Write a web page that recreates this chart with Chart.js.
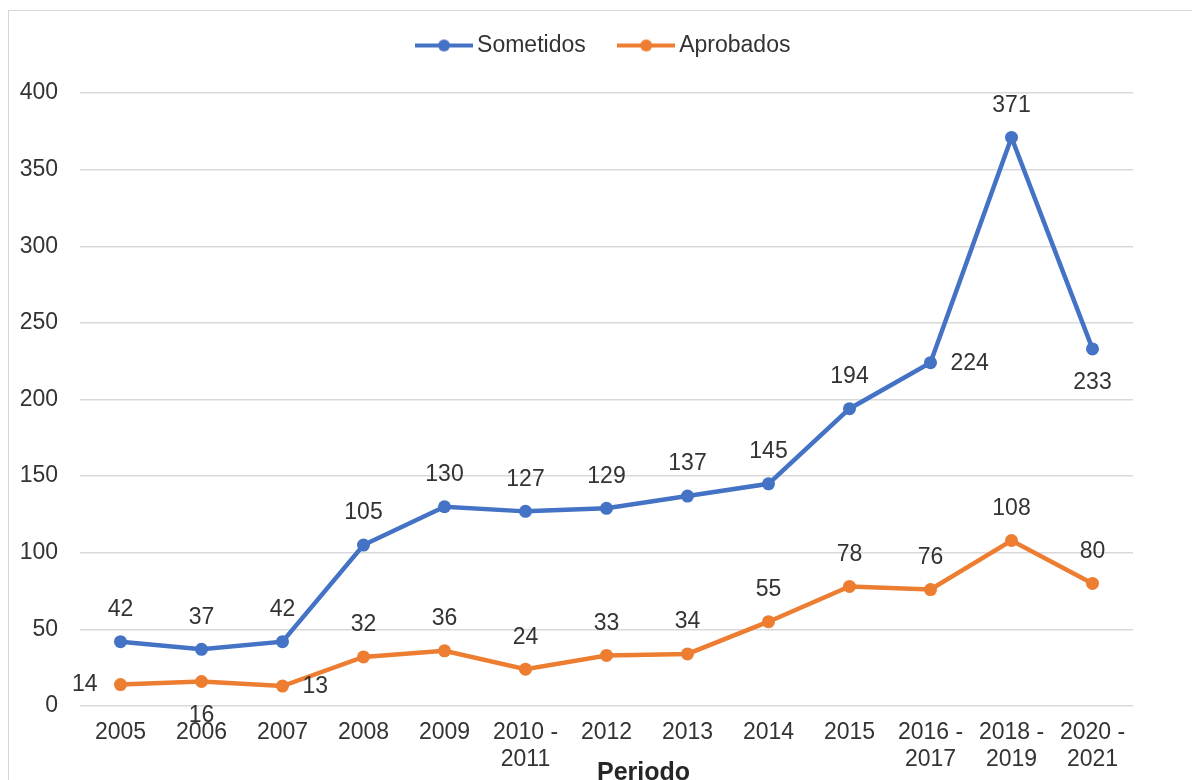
<!DOCTYPE html>
<html>
<head>
<meta charset="utf-8">
<script src="https://cdn.jsdelivr.net/npm/chart.js@4.4.1/dist/chart.umd.min.js"></script>
<style>
  html, body { margin: 0; padding: 0; background: #ffffff; overflow: hidden; }
  #frame { position: absolute; left: 8px; top: 10px; width: 1300px; height: 900px; border: 1.5px solid #d6d6d6; box-sizing: border-box; }
  #wrap { position: absolute; left: 0; top: 0; width: 1192px; height: 780px; }
</style>
</head>
<body>
<div id="frame"></div>
<div id="wrap"><canvas id="c" width="1192" height="780"></canvas></div>
<script>
// ---- data ----
const categories = [['2005'], ['2006'], ['2007'], ['2008'], ['2009'], ['2010 -', '2011'], ['2012'], ['2013'], ['2014'], ['2015'], ['2016 -', '2017'], ['2018 -', '2019'], ['2020 -', '2021']];
const seriesNames = ['Sometidos', 'Aprobados'];
const sometidos = [42, 37, 42, 105, 130, 127, 129, 137, 145, 194, 224, 371, 233];
const aprobados = [14, 16, 13, 32, 36, 24, 33, 34, 55, 78, 76, 108, 80];
const yTicks = [0, 50, 100, 150, 200, 250, 300, 350, 400];
const xTitle = 'Periodo';

// label placement (config)
const sometidosLabelPlace = ['top', 'top', 'top', 'top', 'top', 'top', 'top', 'top', 'top', 'top', 'right', 'top', 'bottom'];
const aprobadosLabelPlace = ['left', 'bottom', 'right', 'top', 'top', 'top', 'top', 'top', 'top', 'top', 'top', 'top', 'top'];

const BLUE = '#4472C4';
const ORANGE = '#ED7D31';
const TEXT = '#333333';
const FONT = '"Liberation Sans", Arial, sans-serif';

function legendMarker(color) {
  const c = document.createElement('canvas');
  c.width = 58; c.height = 14;
  const g = c.getContext('2d');
  g.strokeStyle = color; g.lineWidth = 4;
  g.beginPath(); g.moveTo(0, 7); g.lineTo(58, 7); g.stroke();
  g.fillStyle = color;
  g.beginPath(); g.arc(29, 7, 6, 0, Math.PI * 2); g.fill();
  return c;
}
const markers = [legendMarker(BLUE), legendMarker(ORANGE)];

const layoutPlugin = {
  id: 'legendHeight',
  beforeLayout(chart) {
    const lg = chart.legend;
    if (lg && !lg._patched) {
      const orig = lg.fit.bind(lg);
      lg.fit = function () { orig(); this.height = 98; };
      lg._patched = true;
    }
  }
};

const labelPlugin = {
  id: 'pointLabels',
  afterDatasetsDraw(chart) {
    const ctx = chart.ctx;
    const places = [sometidosLabelPlace, aprobadosLabelPlace];
    ctx.save();
    ctx.font = '23px ' + FONT;
    ctx.fillStyle = TEXT;
    chart.data.datasets.forEach((ds, di) => {
      const meta = chart.getDatasetMeta(di);
      meta.data.forEach((pt, i) => {
        const v = ds.data[i];
        const p = places[di][i];
        let x = pt.x, y = pt.y;
        ctx.textBaseline = 'middle';
        if (p === 'top') { ctx.textAlign = 'center'; y -= 32; }
        else if (p === 'bottom') { ctx.textAlign = 'center'; y += 34; }
        else if (p === 'left') { ctx.textAlign = 'right'; x -= 23; }
        else if (p === 'right') { ctx.textAlign = 'left'; x += 20; y += 1; }
        ctx.fillText(String(v), x, y);
      });
    });
    ctx.restore();
  },
  afterDraw(chart) {
    const ctx = chart.ctx;
    const a = chart.chartArea;
    ctx.save();
    ctx.font = 'bold 25px ' + FONT;
    ctx.fillStyle = '#262626';
    ctx.textAlign = 'center';
    ctx.textBaseline = 'alphabetic';
    ctx.fillText(xTitle, (a.left + a.right) / 2 + 37, 780);
    ctx.restore();
  }
};

new Chart(document.getElementById('c'), {
  type: 'line',
  data: {
    labels: categories,
    datasets: [
      { label: seriesNames[0], data: sometidos, borderColor: BLUE, backgroundColor: BLUE, borderWidth: 4.5, pointRadius: 6.5, pointBackgroundColor: BLUE, pointBorderColor: BLUE, pointBorderWidth: 0, tension: 0 },
      { label: seriesNames[1], data: aprobados, borderColor: ORANGE, backgroundColor: ORANGE, borderWidth: 4.5, pointRadius: 6.5, pointBackgroundColor: ORANGE, pointBorderColor: ORANGE, pointBorderWidth: 0, tension: 0 }
    ]
  },
  options: {
    responsive: false,
    animation: false,
    layout: { padding: { left: 8, right: 59, top: -5, bottom: 0 } },
    plugins: {
      tooltip: { enabled: false },
      legend: {
        position: 'top',
        fullSize: false,
        labels: {
          usePointStyle: true,
          pointStyleWidth: 43,
          padding: 39,
          color: TEXT,
          font: { family: FONT, size: 23 },
          generateLabels(chart) {
            return chart.data.datasets.map((ds, i) => ({
              text: ds.label,
              fillStyle: ds.borderColor,
              strokeStyle: ds.borderColor,
              fontColor: TEXT,
              lineWidth: 0,
              pointStyle: markers[i],
              datasetIndex: i,
              hidden: false
            }));
          }
        }
      }
    },
    scales: {
      x: {
        type: 'category',
        offset: true,
        grid: { display: false, drawTicks: false },
        border: { display: false },
        ticks: { color: TEXT, font: { family: FONT, size: 23, lineHeight: 1.17 }, padding: 13, maxRotation: 0, autoSkip: false },
        afterFit(scale) { scale.height = 74; }
      },
      y: {
        min: 0,
        max: 400,
        afterBuildTicks(scale) { scale.ticks = yTicks.map(v => ({ value: v })); },
        grid: { color: '#d9d9d9', lineWidth: 1.5, drawTicks: false },
        border: { display: false },
        ticks: { color: TEXT, font: { family: FONT, size: 23 }, padding: 22 },
        afterFit(scale) { scale.width = 72; }
      }
    }
  },
  plugins: [layoutPlugin, labelPlugin]
});
</script>
</body>
</html>
